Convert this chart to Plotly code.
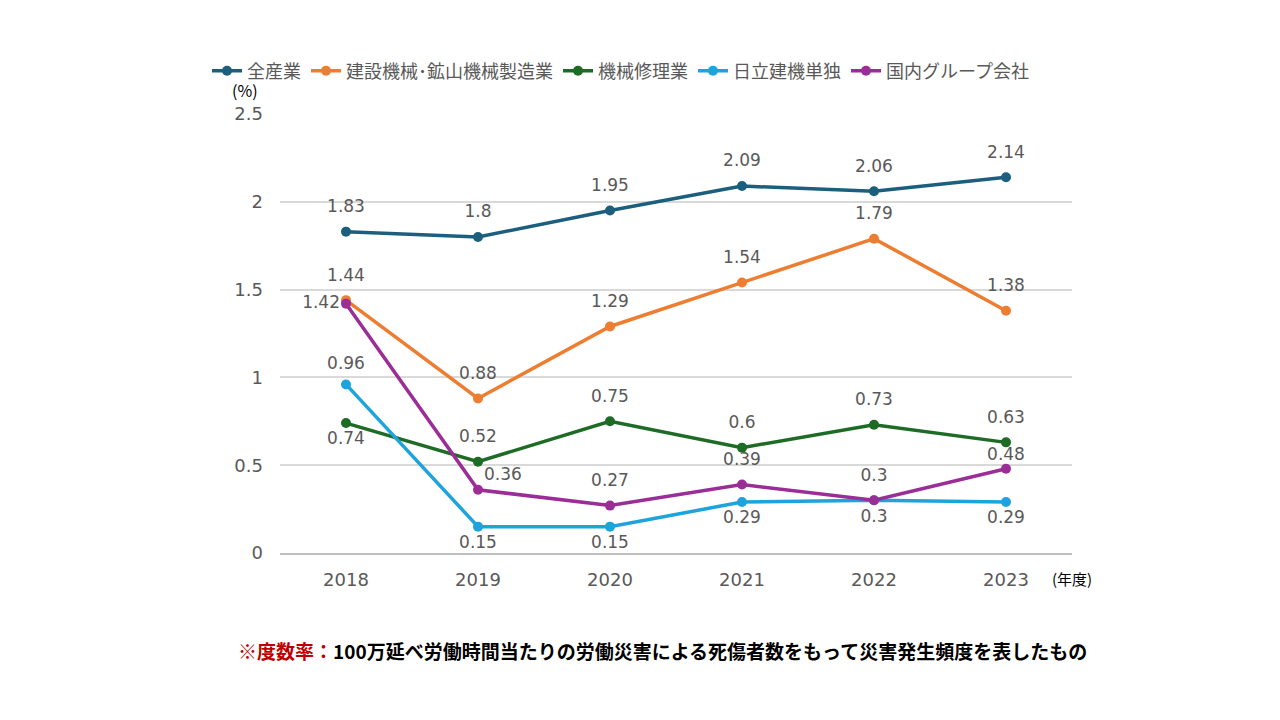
import plotly.graph_objects as go

years = ["2018", "2019", "2020", "2021", "2022", "2023"]

all_industry = [1.83, 1.80, 1.95, 2.09, 2.06, 2.14]
construction_mining = [1.44, 0.88, 1.29, 1.54, 1.79, 1.38]
machine_repair = [0.74, 0.52, 0.75, 0.60, 0.73, 0.63]
hitachi_only = [0.96, 0.15, 0.15, 0.29, 0.30, 0.29]
domestic_group = [1.42, 0.36, 0.27, 0.39, 0.30, 0.48]

# name, values, colour, label positions, label distance (invisible marker size)
series = [
    ("全産業", all_industry, "#1b5e7d",
     ["top center"] * 6, [23] * 6),
    ("建設機械･鉱山機械製造業", construction_mining, "#ed7d31",
     ["top center"] * 6, [23] * 6),
    ("機械修理業", machine_repair, "#1d6b25",
     ["bottom center"] + ["top center"] * 5, [12] + [23] * 5),
    ("日立建機単独", hitachi_only, "#1ea4dc",
     ["top center"] + ["bottom center"] * 5, [16] + [12] * 5),
    ("国内グループ会社", domestic_group, "#9b2d96",
     ["middle left", "top right"] + ["top center"] * 4, [8, 8, 23, 23, 23, 6]),
]

# page is offset by 8px in the browser, so margins are shifted
L, R, T, B = 272, 216, 106, 175
OFF = 8

fig = go.Figure()
for name, vals, color, pos, pad in series:
    fig.add_trace(go.Scatter(
        x=years, y=vals, name=name, mode="lines+markers",
        line=dict(color=color, width=3.5),
        marker=dict(color=color, size=10),
    ))
    fig.add_trace(go.Scatter(
        x=years, y=vals, mode="markers+text", showlegend=False, hoverinfo="skip",
        marker=dict(size=pad, opacity=0),
        text=[f"{v:g}" for v in vals],
        textposition=pos,
        textfont=dict(family="DejaVu Sans", size=17, color="#595959"),
        cliponaxis=False,
    ))

pw = 1280 - L - R
ph = 720 - T - B


def px_to_paper(xp, yp):
    return (xp - OFF - L) / pw, (720 - B - (yp - OFF)) / ph


# legend starts left of the plot area so it gets the full width for one row
leg_x, leg_y = px_to_paper(207, 71)

fig.update_layout(
    width=1280, height=720,
    paper_bgcolor="white", plot_bgcolor="white",
    margin=dict(l=L, r=R, t=T, b=B, autoexpand=False),
    font=dict(family="Noto Sans CJK JP", color="#595959"),
    legend=dict(orientation="h", x=leg_x, xanchor="left", y=leg_y, yanchor="middle",
                font=dict(size=18, color="#595959"), tracegroupgap=0),
    xaxis=dict(showgrid=False, showline=True, linecolor="#bfbfbf", linewidth=1.5,
               ticks="", tickfont=dict(family="DejaVu Sans", size=18, color="#595959"),
               ticklabelstandoff=10, range=[-0.5, 5.5]),
    yaxis=dict(range=[0, 2.5], dtick=0.5, showgrid=True, gridcolor="#d9d9d9",
               gridwidth=1.5, zeroline=False, showline=False,
               tickfont=dict(family="DejaVu Sans", size=18, color="#595959"),
               ticklabelstandoff=16),
)

notes = [
    ("(%)", 245, 90, 16, "#000000", False),
    ("(年度)", 1072, 578, 15, "#000000", False),
    ("<span style='color:#c00000'>※度数率：</span>100万延べ労働時間当たりの労働災害による死傷者数をもって災害発生頻度を表したもの",
     662, 650, 19, "#000000", True),
]
for text, xp, yp, fs, col, bold in notes:
    ax, ay = px_to_paper(xp, yp)
    fig.add_annotation(
        text=f"<b>{text}</b>" if bold else text,
        x=ax, y=ay, xref="paper", yref="paper", xanchor="center", yanchor="middle",
        showarrow=False, font=dict(size=fs, color=col),
    )

fig.write_html("out.html")
